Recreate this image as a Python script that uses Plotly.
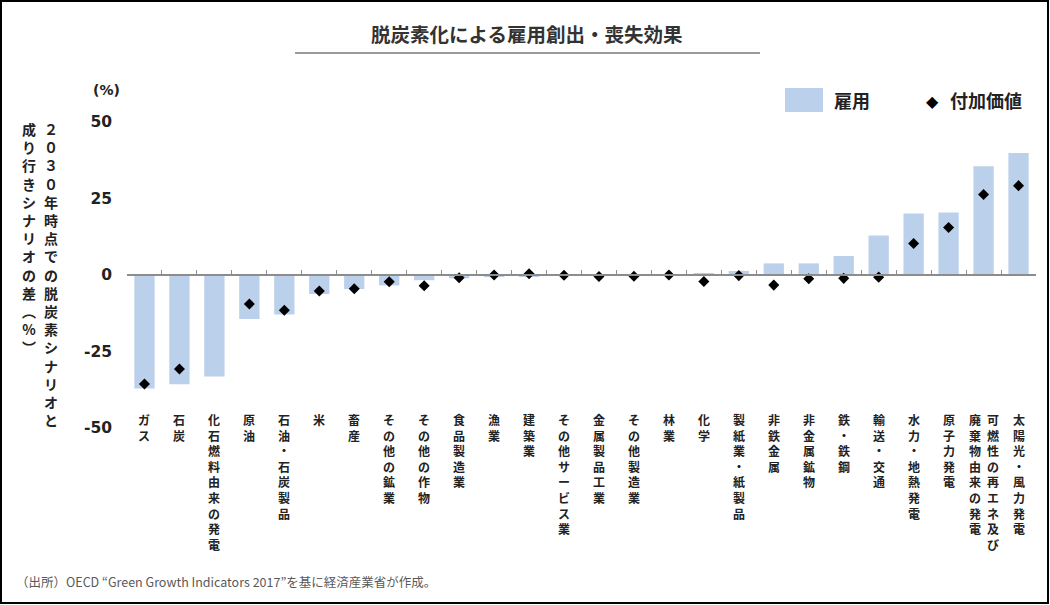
import plotly.graph_objects as go

# ---- data ----
categories = ["ガス", "石炭", "化石燃料由来の発電", "原油", "石油・石炭製品", "米", "畜産",
              "その他の鉱業", "その他の作物", "食品製造業", "漁業", "建築業", "その他サービス業",
              "金属製品工業", "その他製造業", "林業", "化学", "製紙業・紙製品", "非鉄金属",
              "非金属鉱物", "鉄・鉄鋼", "輸送・交通", "水力・地熱発電", "原子力発電",
              "可燃性の再エネ及び|廃棄物由来の発電", "太陽光・風力発電"]
employment = [-37.1, -35.7, -33.2, -14.4, -12.9, -6.2, -4.6, -3.4, -1.7, -1.1, -0.7, -0.5, 0.0,
              0.0, 0.0, 0.0, 0.4, 1.3, 3.8, 3.8, 6.2, 12.9, 20.1, 20.4, 35.5, 39.9]
value_added = [-35.6, -30.7, None, -9.5, -11.5, -5.2, -4.5, -2.2, -3.5, -0.9, 0.0, 0.4, -0.1,
               -0.5, -0.4, 0.0, -2.1, -0.2, -3.3, -1.2, -1.1, -0.7, 10.3, 15.5, 26.3, 29.2]
y_ticks = [-50, -25, 0, 25, 50]
title = "脱炭素化による雇用創出・喪失効果"
y_title_cols = ["２０３０年時点での脱炭素シナリオと", "成り行きシナリオの差︵%︶"]
legend_names = ["雇用", "付加価値"]
source = "（出所）OECD “Green Growth Indicators 2017”を基に経済産業省が作成。"

# ---- geometry (pixels) ----
W, H = 1050, 605
L, R, T, B = 127, 14, 122, 177
PW, PH = W - L - R, H - T - B


def px(x):
    return (x - L) / PW


def py(y):
    return (H - B - y) / PH


JP = "Noto Sans CJK JP"
TXT = "#222222"
BAR = "#BBD0EA"

xcats = [c.replace("|", "") for c in categories]

fig = go.Figure()
fig.add_trace(go.Bar(x=xcats, y=employment, marker=dict(color=BAR, line=dict(width=0)),
                     width=0.58, name=legend_names[0], showlegend=False))
fig.add_trace(go.Scatter(x=xcats, y=value_added, mode="markers",
                         marker=dict(symbol="diamond", size=8.5, color="#000000"),
                         name=legend_names[1], showlegend=False))

annotations = []
# category labels (vertical writing)
for cat, xc in zip(categories, xcats):
    cols = cat.split("|")
    if len(cols) == 1:
        annotations.append(dict(x=xc, xref="x", y=py(409), yref="paper", yanchor="top",
                                xanchor="center", showarrow=False,
                                text="<br>".join(list(cols[0])),
                                font=dict(family=JP, size=12, color=TXT, weight="bold")))
    else:
        for i, col in enumerate(cols):
            annotations.append(dict(x=xc, xref="x", y=py(409), yref="paper", yanchor="top",
                                    xanchor="center", xshift=9 - 18 * i, showarrow=False,
                                    text="<br>".join(list(col)),
                                    font=dict(family=JP, size=12, color=TXT, weight="bold")))

# y-axis title (two vertical columns, right to left)
for i, col in enumerate(y_title_cols):
    annotations.append(dict(x=px(51 - 22 * i), xref="paper", y=py(117), yref="paper",
                            yanchor="top", xanchor="center", showarrow=False,
                            text="<br>".join(list(col)),
                            font=dict(family=JP, size=14, color=TXT, weight="bold")))

# (%) unit
annotations.append(dict(x=px(106), xref="paper", y=py(90), yref="paper", xanchor="center",
                        yanchor="middle", showarrow=False, text="(%)",
                        font=dict(family="DejaVu Sans", size=14, color=TXT, weight="bold")))

# title
annotations.append(dict(x=px(527), xref="paper", y=py(34), yref="paper", xanchor="center",
                        yanchor="middle", showarrow=False, text=title,
                        font=dict(family=JP, size=19.5, color="#333333", weight="bold")))

# legend
annotations.append(dict(x=px(832), xref="paper", y=py(100), yref="paper", xanchor="left",
                        yanchor="middle", showarrow=False, text=legend_names[0],
                        font=dict(family=JP, size=18, color=TXT, weight="bold")))
annotations.append(dict(x=px(932), xref="paper", y=py(101), yref="paper", xanchor="center",
                        yanchor="middle", showarrow=False, text="◆",
                        font=dict(family="DejaVu Sans", size=16, color="#000000")))
annotations.append(dict(x=px(948), xref="paper", y=py(100), yref="paper", xanchor="left",
                        yanchor="middle", showarrow=False, text=legend_names[1],
                        font=dict(family=JP, size=18, color=TXT, weight="bold")))

# source note
annotations.append(dict(x=px(14), xref="paper", y=py(581), yref="paper", xanchor="left",
                        yanchor="middle", showarrow=False, text=source,
                        font=dict(family=JP, size=12.5, color="#595959")))

shapes = [
    # title underline
    dict(type="line", xref="paper", yref="paper", x0=px(295), x1=px(760), y0=py(53), y1=py(53),
         line=dict(color="#9a9a9a", width=2)),
    # legend swatch
    dict(type="rect", xref="paper", yref="paper", x0=px(785), x1=px(823), y0=py(112), y1=py(88),
         fillcolor=BAR, line=dict(width=0)),
    # outer frame
    dict(type="rect", xref="paper", yref="paper", x0=px(1), x1=px(1048), y0=py(603), y1=py(1),
         line=dict(color="#000000", width=2), fillcolor="rgba(0,0,0,0)"),
]

fig.update_layout(
    width=W, height=H,
    margin=dict(l=L, r=R, t=T, b=B),
    paper_bgcolor="white", plot_bgcolor="white",
    bargap=0.42,
    showlegend=False,
    annotations=annotations,
    shapes=shapes,
    xaxis=dict(type="category", range=[-0.5, len(categories) - 0.5], anchor="free", position=0.5,
               showline=True, linecolor="#8c8c8c", linewidth=1.5, ticks="inside",
               tickson="boundaries", ticklen=4, tickcolor="#8c8c8c", tickwidth=1,
               showticklabels=False, showgrid=False, zeroline=False, fixedrange=True),
    yaxis=dict(range=[-50, 50], tickvals=y_ticks, ticktext=[str(v) for v in y_ticks],
               showgrid=False, zeroline=False, showline=False, ticks="",
               ticklabelstandoff=14,
               tickfont=dict(family="DejaVu Sans", size=15.5, color=TXT, weight="bold")),
)

fig.write_html("out.html", config={"displayModeBar": False},
               post_script="document.body.style.margin='0';document.body.style.overflow='hidden';")
